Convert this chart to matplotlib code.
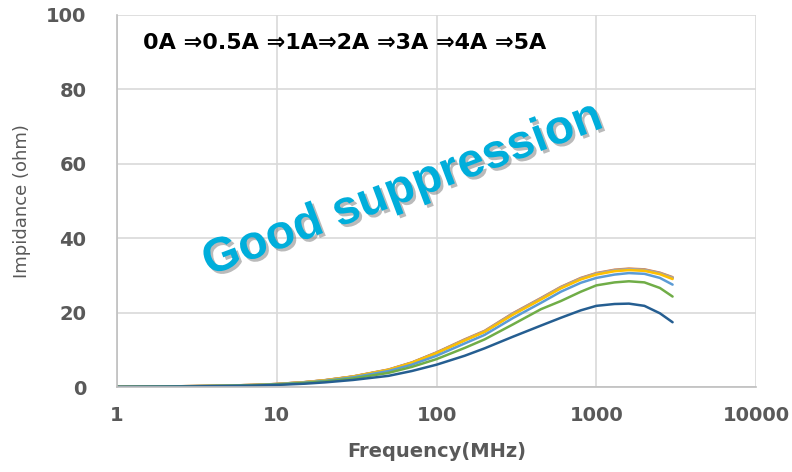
import matplotlib
matplotlib.use('Agg')
import matplotlib.pyplot as plt
import matplotlib.patheffects as pe
from matplotlib.ticker import FixedLocator, FixedFormatter, NullLocator

# frequency points (MHz)
freq = [1, 2, 3, 5, 7, 10, 15, 20, 30, 50, 70, 100, 150, 200, 300, 450, 600, 800, 1000, 1300, 1600, 2000, 2500, 3000]

# impedance (ohm) per bias current
z_0A   = [0.05, 0.15, 0.25, 0.40, 0.55, 0.80, 1.30, 1.80, 2.80, 4.60, 6.50, 9.20, 12.6, 14.9, 19.6, 23.7, 26.7, 29.1, 30.4, 31.3, 31.6, 31.4, 30.5, 29.3]
z_05A  = [0.05, 0.15, 0.26, 0.41, 0.56, 0.82, 1.32, 1.85, 2.85, 4.70, 6.60, 9.30, 12.8, 15.1, 19.8, 23.9, 26.9, 29.3, 30.6, 31.5, 31.8, 31.6, 30.7, 29.5]
z_1A   = [0.05, 0.15, 0.25, 0.40, 0.55, 0.81, 1.31, 1.82, 2.82, 4.65, 6.55, 9.25, 12.7, 15.0, 19.7, 23.8, 26.8, 29.2, 30.5, 31.4, 31.7, 31.5, 30.6, 29.4]
z_2A   = [0.05, 0.15, 0.25, 0.40, 0.55, 0.80, 1.30, 1.80, 2.80, 4.60, 6.50, 9.10, 12.5, 14.8, 19.4, 23.5, 26.5, 28.9, 30.2, 31.1, 31.4, 31.2, 30.3, 29.0]
z_3A   = [0.05, 0.14, 0.22, 0.37, 0.50, 0.75, 1.20, 1.65, 2.60, 4.30, 6.00, 8.40, 11.7, 14.0, 18.5, 22.6, 25.6, 28.0, 29.3, 30.2, 30.6, 30.4, 29.3, 27.5]
z_4A   = [0.04, 0.12, 0.20, 0.33, 0.45, 0.68, 1.10, 1.50, 2.30, 3.80, 5.40, 7.50, 10.5, 12.8, 16.8, 20.9, 23.1, 25.6, 27.3, 28.1, 28.4, 28.1, 26.6, 24.3]
z_5A   = [0.03, 0.10, 0.17, 0.28, 0.38, 0.57, 0.90, 1.25, 1.90, 3.00, 4.30, 6.00, 8.40, 10.4, 13.5, 16.5, 18.6, 20.6, 21.8, 22.3, 22.4, 21.8, 19.8, 17.4]

series = [z_0A, z_05A, z_1A, z_2A, z_3A, z_4A, z_5A]
colors = ['#4472C4', '#ED7D31', '#A5A5A5', '#FFC000', '#5B9BD5', '#70AD47', '#255E91']

xticks = [1, 10, 100, 1000, 10000]
yticks = [0, 20, 40, 60, 80, 100]

fig = plt.figure(figsize=(7.92, 4.72), dpi=100)
ax = fig.add_axes([0.1477, 0.180, 0.807, 0.789])

for z, c in zip(series, colors):
    ax.plot(freq, z, color=c, lw=1.8, solid_capstyle='round')

ax.set_xscale('log')
ax.set_xlim(1, 10000)
ax.set_ylim(0, 100)
ax.xaxis.set_major_locator(FixedLocator(xticks))
ax.xaxis.set_major_formatter(FixedFormatter([str(t) for t in xticks]))
ax.xaxis.set_minor_locator(NullLocator())
ax.set_yticks(yticks)

ax.grid(True, color='#D9D9D9', lw=1.2)
ax.set_axisbelow(True)
for s in ['top', 'right']:
    ax.spines[s].set_visible(False)
for s in ['left', 'bottom']:
    ax.spines[s].set_color('#BFBFBF')
    ax.spines[s].set_linewidth(1.2)

ax.tick_params(length=0, labelcolor='#595959', labelsize=14)
ax.tick_params(axis='x', pad=14)
ax.tick_params(axis='y', pad=22)
for lab in ax.get_xticklabels() + ax.get_yticklabels():
    lab.set_fontweight('bold')

ax.set_xlabel('Frequency(MHz)', fontsize=14, fontweight='bold', color='#595959', labelpad=12)
ax.set_ylabel('Impidance (ohm)', fontsize=13, color='#595959', labelpad=11)

ax.text(0.04, 0.925, '0A \u21d20.5A \u21d21A\u21d22A \u21d23A \u21d24A \u21d25A',
        transform=ax.transAxes, fontsize=16, fontweight='bold', color='black',
        va='center', ha='left')

ax.text(0.447, 0.53, 'Good suppression', transform=ax.transAxes,
        fontsize=34.5, fontweight='bold', family='Liberation Sans', color='#00AEDB',
        rotation=20.6, ha='center', va='center',
        path_effects=[pe.SimplePatchShadow(offset=(2, -2), shadow_rgbFace='#666666', alpha=0.45),
                      pe.Normal()])

plt.savefig('out.png', dpi=100)
